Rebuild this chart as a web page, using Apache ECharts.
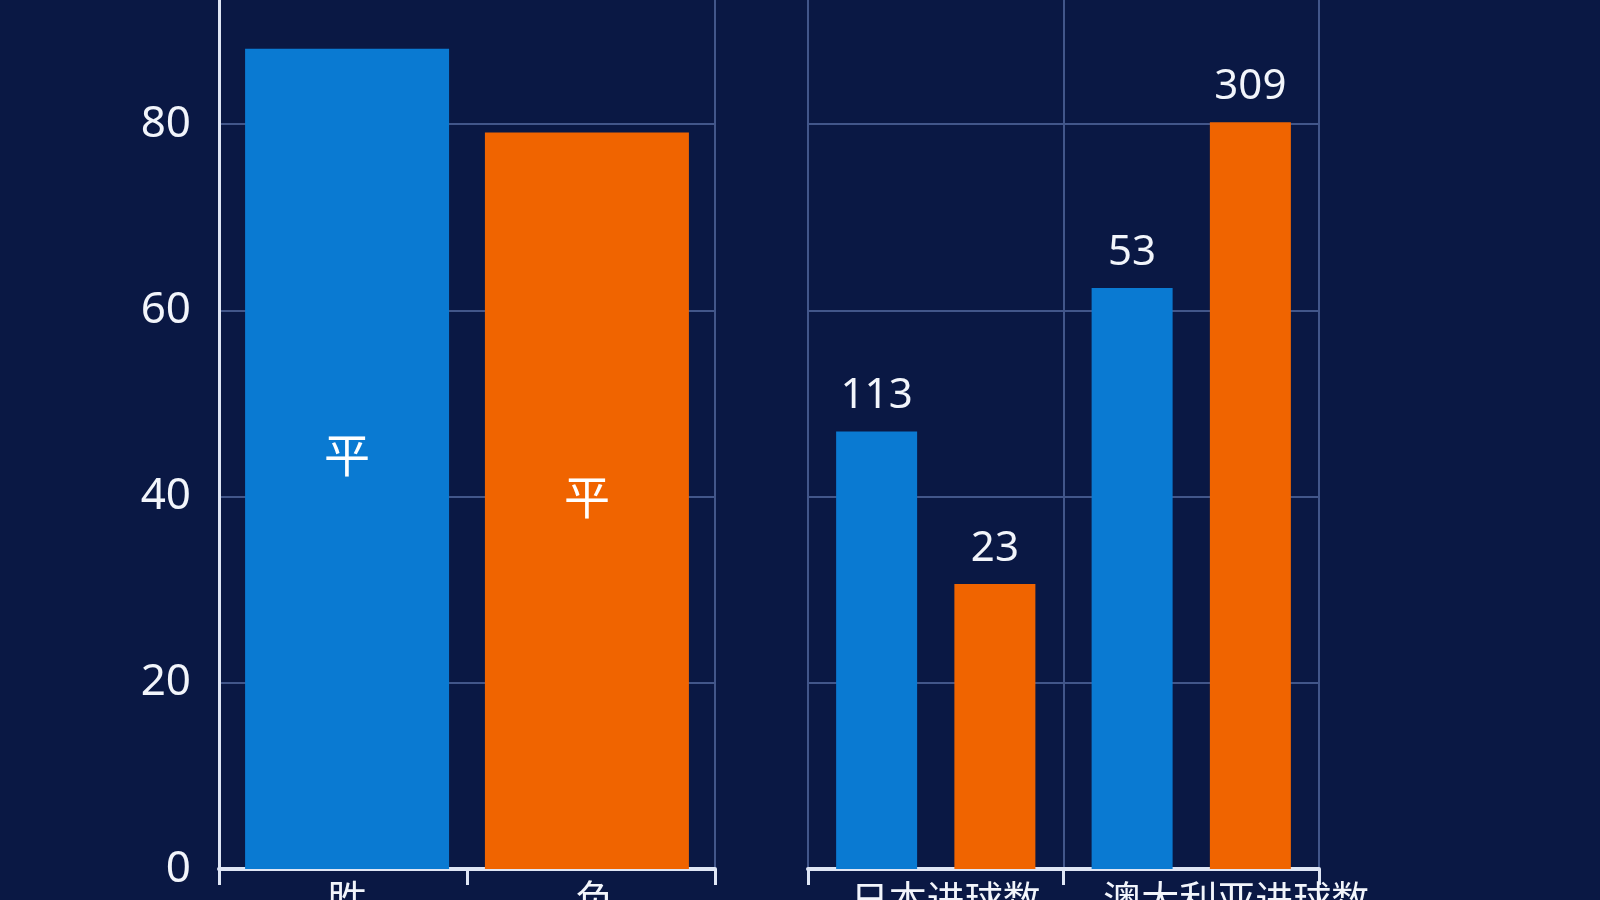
<!DOCTYPE html>
<html>
<head>
<meta charset="utf-8">
<script src="https://cdn.jsdelivr.net/npm/echarts@6/dist/echarts.min.js"></script>
<style>
  html, body { margin: 0; padding: 0; background: #0a1844; }
  #chart { width: 1600px; height: 900px; }
</style>
</head>
<body>
<div id="chart"></div>
<script>
// left panel: result counts
const resultCategories = ['胜', '负'];
const resultValues = [88.1, 79.1];
const resultLabel = '平';

// right panel: goals
const goalCategories = ['日本进球数', '澳大利亚进球数'];
const blueValues = [47.0, 62.4];
const blueLabels = ['113', '53'];
const orangeValues = [30.6, 80.2];
const orangeLabels = ['23', '309'];

const yTicks = [0, 20, 40, 60, 80, 100];

const BLUE = '#0a7ad2';
const ORANGE = '#f06400';
const GRID_LINE = '#42568a';
const AXIS_WHITE = '#dfe6f5';
const TEXT = '#f2f5fb';
const FONT = '"Noto Sans", "Noto Sans CJK SC", sans-serif';

const chart = echarts.init(document.getElementById('chart'));

const valueAxisBase = {
  type: 'value',
  min: yTicks[0],
  max: yTicks[yTicks.length - 1],
  interval: 20
};

// the left panel draws each result in its own colour, nudged slightly towards the middle
function resultSeries(idx, color) {
  return {
    type: 'bar',
    xAxisIndex: 0,
    yAxisIndex: 0,
    barWidth: 204,
    barGap: '-104%',
    itemStyle: { color: color },
    data: resultValues.map((v, i) => (i === idx ? v : '-')),
    label: {
      show: true,
      position: 'inside',
      formatter: resultLabel,
      color: '#ffffff',
      fontSize: 46,
      fontFamily: FONT
    }
  };
}

function goalSeries(values, labels, color) {
  return {
    type: 'bar',
    xAxisIndex: 1,
    yAxisIndex: 2,
    barWidth: 81,
    barGap: '46%',
    itemStyle: { color: color },
    data: values,
    label: {
      show: true,
      position: 'top',
      distance: 14,
      formatter: p => labels[p.dataIndex],
      color: TEXT,
      fontSize: 42,
      fontFamily: FONT
    }
  };
}

const goalLabelShift = [20, 90];

chart.setOption({
  backgroundColor: '#0a1844',
  animation: false,
  grid: [
    { left: 219, top: -62, width: 496, height: 931, containLabel: false, outerBoundsMode: 'none' },
    { left: 808, top: -62, width: 511, height: 931, containLabel: false, outerBoundsMode: 'none' }
  ],
  xAxis: [
    {
      type: 'category',
      gridIndex: 0,
      data: resultCategories,
      axisLine: { lineStyle: { color: AXIS_WHITE, width: 4 } },
      axisTick: { show: true, length: 16, lineStyle: { color: AXIS_WHITE, width: 3 } },
      axisLabel: { interval: 0, color: TEXT, fontSize: 40, fontFamily: FONT, margin: 14, padding: [0, 0, 0, 8] },
      splitLine: { show: false }
    },
    {
      type: 'category',
      gridIndex: 1,
      data: goalCategories.map((c, i) => ({
        value: c,
        textStyle: { padding: [0, 0, 0, goalLabelShift[i]] }
      })),
      axisLine: { lineStyle: { color: AXIS_WHITE, width: 4 } },
      axisTick: { show: true, length: 16, lineStyle: { color: AXIS_WHITE, width: 3 } },
      axisLabel: { interval: 0, color: TEXT, fontSize: 38, fontFamily: FONT, margin: 14, hideOverlap: false },
      splitLine: { show: true, lineStyle: { color: GRID_LINE, width: 2 } }
    }
  ],
  yAxis: [
    Object.assign({}, valueAxisBase, {
      gridIndex: 0,
      axisLine: { show: true, lineStyle: { color: AXIS_WHITE, width: 3 } },
      axisTick: { show: false },
      axisLabel: { color: TEXT, fontSize: 44, fontFamily: FONT, margin: 28 },
      splitLine: { lineStyle: { color: GRID_LINE, width: 2 } }
    }),
    Object.assign({}, valueAxisBase, {
      gridIndex: 0,
      position: 'right',
      axisLine: { show: true, lineStyle: { color: GRID_LINE, width: 2 } },
      axisTick: { show: false },
      axisLabel: { show: false },
      splitLine: { show: false }
    }),
    Object.assign({}, valueAxisBase, {
      gridIndex: 1,
      axisLine: { show: false },
      axisTick: { show: false },
      axisLabel: { show: false },
      splitLine: { lineStyle: { color: GRID_LINE, width: 2 } }
    })
  ],
  series: [
    resultSeries(0, BLUE),
    resultSeries(1, ORANGE),
    goalSeries(blueValues, blueLabels, BLUE),
    goalSeries(orangeValues, orangeLabels, ORANGE)
  ]
});
</script>
</body>
</html>
